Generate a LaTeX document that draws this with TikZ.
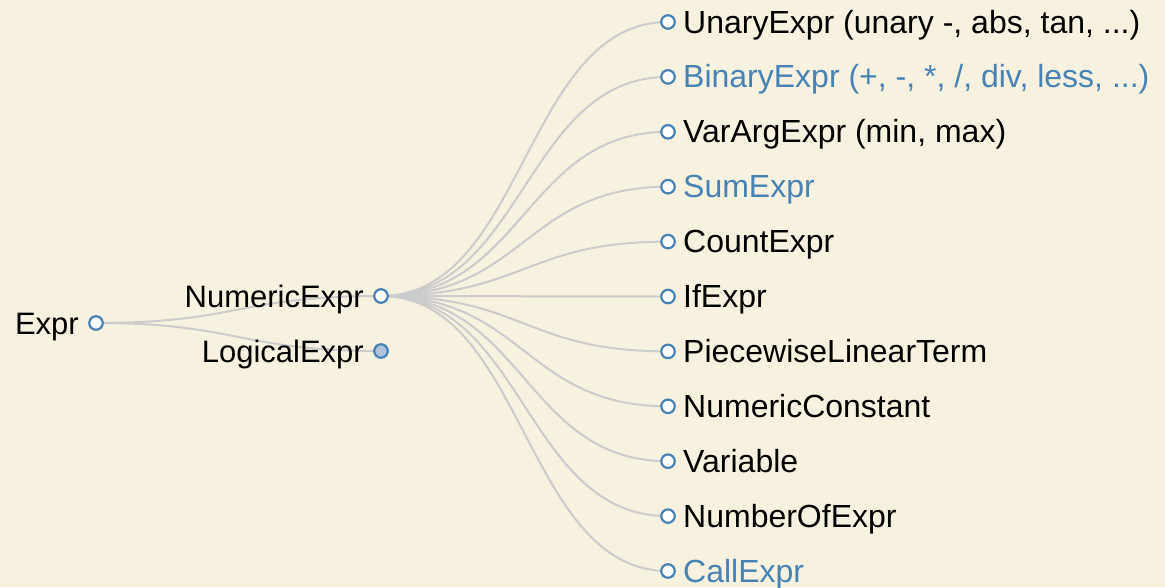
\documentclass[tikz,border=0pt]{standalone}
\usepackage{fontspec}
\setmainfont{Liberation Sans}
\usetikzlibrary{backgrounds}
\definecolor{paper}{HTML}{F7F2E0}
\definecolor{steelblue}{HTML}{4682B4}
\definecolor{lightsteel}{HTML}{B0C4DE}
\definecolor{linkgray}{HTML}{CCCCCC}

\begin{document}
\begin{tikzpicture}[x=1pt, y=-1pt,
	dot/.style={circle, draw=steelblue, line width=2.2pt, fill=white, minimum size=13.5pt, inner sep=0pt},
	shut/.style={dot, fill=lightsteel},
	link/.style={draw=linkgray, line width=2pt},
	lefttxt/.style={anchor=base east, inner sep=0pt, font=\fontsize{31}{37}\selectfont},
	righttxt/.style={anchor=base west, inner sep=0pt, font=\fontsize{32}{38}\selectfont}]
		\useasboundingbox (0,0) rectangle (1165,587);
		\begin{scope}[on background layer]
			\fill[paper] (0,0) rectangle (1165,587);
		\end{scope}
		% root and its two children
		\node[dot] (expr) at (96,323) {};
		\node[dot] (numeric) at (381,296) {};
		\node[shut] (logical) at (381,351) {};
		\node[lefttxt] (expr-txt) at ([xshift=-17pt, yshift=-11pt]expr.center) {Expr};
		\node[lefttxt] (numeric-txt) at ([xshift=-17pt, yshift=-11pt]numeric.center) {NumericExpr};
		\node[lefttxt] (logical-txt) at ([xshift=-17pt, yshift=-11pt]logical.center) {LogicalExpr};
		\begin{scope}[on background layer]
			\draw[link] (expr.center) .. controls +(142.5,0) and +(-142.5,0) .. (numeric.center);
			\draw[link] (expr.center) .. controls +(142.5,0) and +(-142.5,0) .. (logical.center);
		\end{scope}
		% leaves of NumericExpr
		\foreach \txt/\col [count=\i] in {{UnaryExpr (unary -, abs, tan, ...)}/black,
				{BinaryExpr (+, -, *, /, div, less, ...)}/steelblue,
				{VarArgExpr (min, max)}/black,
				SumExpr/steelblue,
				CountExpr/black,
				IfExpr/black,
				PiecewiseLinearTerm/black,
				NumericConstant/black,
				Variable/black,
				NumberOfExpr/black,
				CallExpr/steelblue} {
			\node[dot] (leaf\i) at (668,{22+54.9*(\i-1)}) {};
			\node[righttxt, text=\col] (leaf\i-txt) at ([xshift=15pt, yshift=-11pt]leaf\i.center) {\txt};
			\begin{scope}[on background layer]
				\draw[link] (numeric.center) .. controls +(143.5,0) and +(-143.5,0) .. (leaf\i.center);
			\end{scope}
		}
	\end{tikzpicture}
\end{document}
